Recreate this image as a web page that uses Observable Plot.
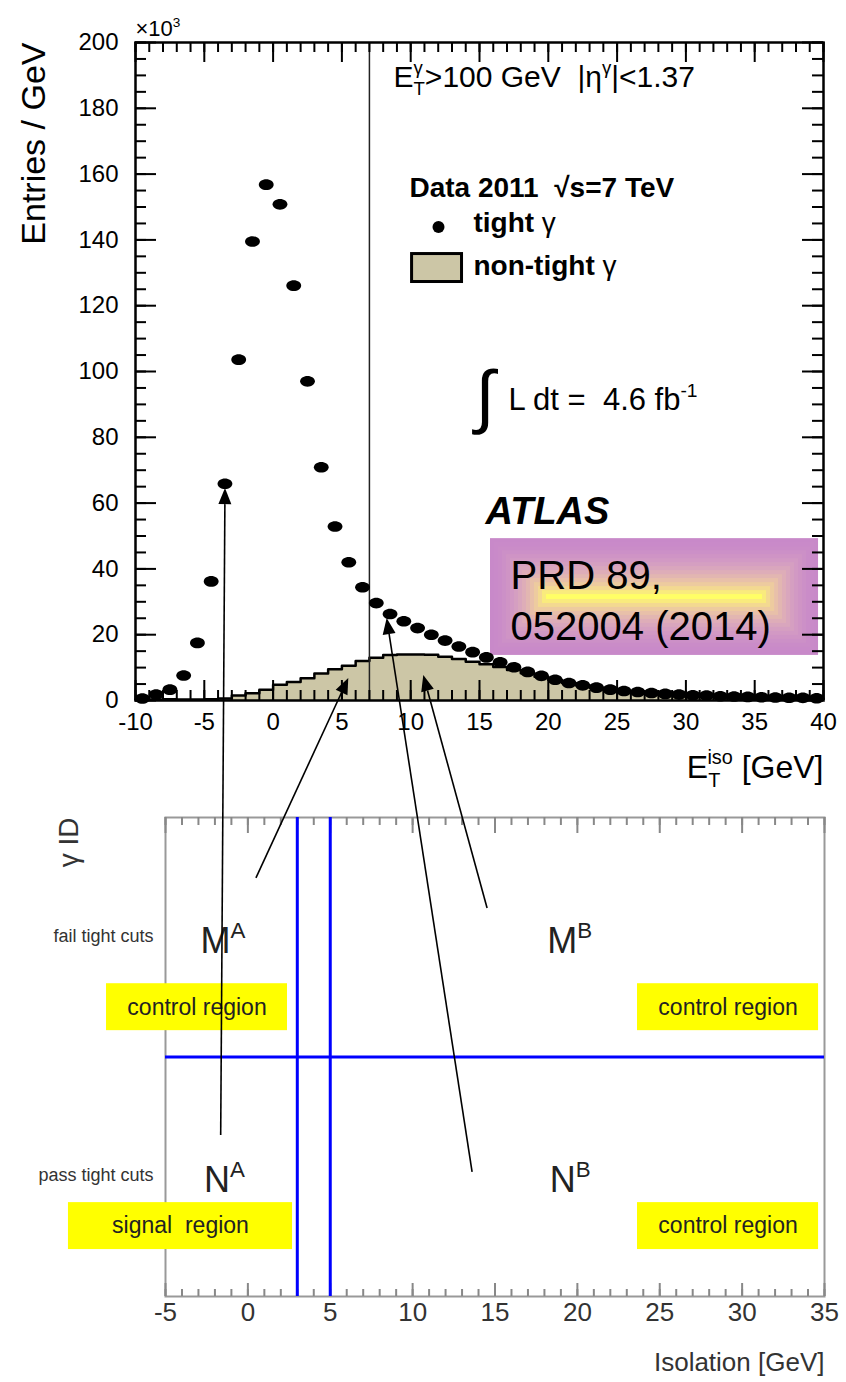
<!DOCTYPE html>
<html>
<head>
<meta charset="utf-8">
<script src="https://cdn.jsdelivr.net/npm/d3@7"></script>
<script src="https://cdn.jsdelivr.net/npm/@observablehq/plot@0.6"></script>
<style>
  html, body { margin: 0; padding: 0; background: #fff; overflow: hidden; }
  #wrap { position: relative; width: 846px; height: 1382px; }
  #wrap > svg { display: block; }
  #topframe, #overlay { position: absolute; left: 0; top: 0; pointer-events: none; }
  svg text { white-space: pre; }
</style>
</head>
<body>
<div id="wrap"></div>
<script>
const FONT = "'Liberation Sans', Arial, Helvetica, sans-serif";

// Tight photon candidates: bin centres in E_T^iso (GeV) and entries / GeV (x10^3)
const tightIso = [-9.5, -8.5, -7.5, -6.5, -5.5, -4.5, -3.5, -2.5, -1.5, -0.5,
  0.5, 1.5, 2.5, 3.5, 4.5, 5.5, 6.5, 7.5, 8.5, 9.5,
  10.5, 11.5, 12.5, 13.5, 14.5, 15.5, 16.5, 17.5, 18.5, 19.5,
  20.5, 21.5, 22.5, 23.5, 24.5, 25.5, 26.5, 27.5, 28.5, 29.5,
  30.5, 31.5, 32.5, 33.5, 34.5, 35.5, 36.5, 37.5, 38.5, 39.5];
const tightEntries = [0.6, 1.8, 3.3, 7.6, 17.5, 36.2, 65.9, 103.6, 139.5, 156.8,
  150.8, 126.1, 97.0, 70.9, 52.9, 42.0, 34.4, 29.6, 26.3, 24.1,
  22.0, 20.0, 18.2, 16.4, 14.7, 13.1, 11.6, 10.1, 8.7, 7.5,
  6.3, 5.3, 4.6, 3.9, 3.3, 2.9, 2.6, 2.3, 2.0, 1.8,
  1.6, 1.5, 1.3, 1.2, 1.1, 1.0, 0.9, 0.85, 0.8, 0.7];

// Non-tight photon candidates: lower bin edges (GeV, 1 GeV wide) and entries / GeV (x10^3)
const nonTightEdge = [-10, -9, -8, -7, -6, -5, -4, -3, -2, -1,
  0, 1, 2, 3, 4, 5, 6, 7, 8, 9,
  10, 11, 12, 13, 14, 15, 16, 17, 18, 19,
  20, 21, 22, 23, 24, 25, 26, 27, 28, 29,
  30, 31, 32, 33, 34, 35, 36, 37, 38, 39];
const nonTightEntries = [0.2, 0.3, 0.4, 0.3, 0.3, 0.4, 0.6, 1.5, 2.2, 3.3,
  4.8, 5.6, 6.8, 8.2, 9.5, 10.6, 12.0, 13.0, 13.8, 14.0,
  14.0, 13.9, 13.3, 12.6, 11.8, 11.0, 10.2, 9.3, 8.3, 7.2,
  6.2, 5.3, 4.6, 3.9, 3.3, 2.8, 2.4, 2.1, 1.8, 1.6,
  1.4, 1.2, 1.1, 1.0, 0.9, 0.8, 0.7, 0.65, 0.6, 0.55];

const isolationCut = [7];                 // GeV, vertical line in the distribution
const topXTicks = [-10, -5, 0, 5, 10, 15, 20, 25, 30, 35, 40];
const topYTicks = [0, 20, 40, 60, 80, 100, 120, 140, 160, 180, 200];

// ABCD plane
const bottomXTicks = [-5, 0, 5, 10, 15, 20, 25, 30, 35];
const isoGap = [3, 5];                    // GeV, the two isolation boundaries
const idCut = [0.5];                      // tight / non-tight boundary on the ID axis
const regionNames = ["M^{A}", "M^{B}", "N^{A}", "N^{B}"];
const regionTags = ["control region", "control region", "signal  region", "control region"];
const idLabels = ["fail tight cuts", "pass tight cuts"];

// Arrows linking regions of the plane (isolation GeV, ID fraction) to the distribution (GeV, entries)
const arrowTails = [[-1.62, 0.336], [0.52, 0.873], [13.64, 0.259], [14.55, 0.81]];
const arrowTips = [[-3.46, 64.4], [5.5, 6.7], [8.29, 24.9], [10.95, 7.6]];

const TAN = "#ccc6a6";

// ---------- helpers ----------
const note = (str, x, y, o = {}) =>
  Plot.text([str], {x: () => x, y: () => y, text: d => d, textAnchor: "start", lineAnchor: "middle", fill: "black", ...o});

// horizontally stretched round marker
const ellipseSymbol = {
  draw(ctx, size) {
    const r = Math.sqrt(size / Math.PI), rx = r * 1.4, ry = r, k = 0.5523;
    ctx.moveTo(rx, 0);
    ctx.bezierCurveTo(rx, ry * k, rx * k, ry, 0, ry);
    ctx.bezierCurveTo(-rx * k, ry, -rx, ry * k, -rx, 0);
    ctx.bezierCurveTo(-rx, -ry * k, -rx * k, -ry, 0, -ry);
    ctx.bezierCurveTo(rx * k, -ry, rx, -ry * k, rx, 0);
    ctx.closePath();
  }
};

// inward ticks on the frame edges: tick marks shortened with insets (pixel lengths)
function edgeTicksX(vals, lenBottom, lenTop, ph, stroke, strokeWidth) {
  return [
    Plot.tickX(vals, {insetTop: ph - lenBottom, stroke, strokeWidth}),
    Plot.tickX(vals, {insetBottom: ph - lenTop, stroke, strokeWidth})
  ];
}
function edgeTicksY(vals, len, pw, stroke, strokeWidth) {
  return [
    Plot.tickY(vals, {insetRight: pw - len, stroke, strokeWidth}),
    Plot.tickY(vals, {insetLeft: pw - len, stroke, strokeWidth})
  ];
}

// ---------- upper panel: isolation distribution ----------
const T = {w: 846, h: 790, ml: 135, mr: 23, mt: 42, mb: 90};
const tpw = T.w - T.ml - T.mr, tph = T.h - T.mt - T.mb;
const topLayout = {
  width: T.w, height: T.h,
  marginLeft: T.ml, marginRight: T.mr, marginTop: T.mt, marginBottom: T.mb
};

const tight = tightIso.map((x, i) => ({x, y: tightEntries[i]}));
const nonTight = nonTightEdge.map((x, i) => ({x: x, y: nonTightEntries[i]}));
const outline = [...nonTight, {x: nonTightEdge.at(-1) + 1, y: nonTightEntries.at(-1)}];

const topMinorX = d3.range(-10, 40.5, 1);
const topMinorY = d3.range(0, 200.5, 5);
const prdLevels = d3.range(0, 15);
const prdColor = d3.interpolateRgbBasis(["#c889c9", "#d6a0c2", "#e4b8b0", "#f2d498", "#ffff66"]);

const topChart = Plot.plot({
  ...topLayout,
  x: {domain: [-10, 40]},
  y: {domain: [0, 200]},
  style: {fontFamily: FONT, fontSize: "24px"},
  marks: [
    // reference box with a rectangular colour fade
    Plot.rect(prdLevels, {
      x1: d => 15.8 + d * 4 / 13.76, x2: d => 39.64 - d * 4 / 13.76,
      y1: d => 13.7 + d * 4 / 3.29, y2: d => 49.2 - d * 4 / 3.29,
      fill: d => prdColor(Math.pow(d / 14, 1.7))
    }),
    Plot.areaY(outline, {x: "x", y: "y", curve: "step-after", fill: TAN}),
    Plot.line(outline, {x: "x", y: "y", curve: "step-after", stroke: "black", strokeWidth: 2.5}),
    Plot.ruleX(isolationCut, {stroke: "#222", strokeWidth: 1.5}),
    Plot.dot(tight, {x: "x", y: "y", r: 5.3, symbol: ellipseSymbol, fill: "black", stroke: "none"}),
    Plot.axisX({ticks: topXTicks, anchor: "bottom", tickSize: 0, tickPadding: 12, tickFormat: d => String(d), label: null, fontSize: 24}),
    Plot.axisY({ticks: topYTicks, anchor: "left", tickSize: 0, tickPadding: 17, tickFormat: d => String(d), label: null, fontSize: 24}),
    Plot.text(["Entries / GeV"], {frameAnchor: "top-left", dx: -101, rotate: -90, textAnchor: "end", lineAnchor: "middle", fontSize: 34}),
    Plot.text(["E_{T}^{iso} [GeV]"], {frameAnchor: "bottom-right", dy: 67, textAnchor: "end", lineAnchor: "middle", fontSize: 32}),
    note("×10^{3}", -10, 204.1, {fontSize: 22}),
    note("E_{T}^{γ}>100 GeV  |η^{γ}|<1.37", 8.75, 189.4, {fontSize: 30}),
    note("Data 2011  √s=7 TeV", 9.91, 155.8, {fontSize: 28, fontWeight: "bold"}),
    Plot.dot([0], {x: () => 12.02, y: () => 143.9, r: 6, fill: "black", stroke: "none"}),
    note("tight !{γ}", 14.56, 145, {fontSize: 28, fontWeight: "bold"}),
    Plot.rect([0], {x1: () => 10.1, x2: () => 13.73, y1: () => 127.2, y2: () => 135.7, fill: TAN, stroke: "black", strokeWidth: 3}),
    note("non-tight !{γ}", 14.56, 132.2, {fontSize: 28, fontWeight: "bold"}),
    note("∫", 14.7, 92.0, {fontSize: 70, fontFamily: "'DejaVu Sans', sans-serif", fontWeight: 200}),
    note("L dt =  4.6 fb^{-1}", 17.1, 91.2, {fontSize: 31}),
    note("ATLAS", 15.44, 57.4, {fontSize: 38, fontWeight: "bold", fontStyle: "italic"}),
    note("PRD 89,", 17.26, 37.7, {fontSize: 40}),
    note("052004 (2014)", 17.26, 22.2, {fontSize: 40})
  ]
});

// frame and inward ticks of the upper panel, on the same scales, laid over the data
const topFrame = Plot.plot({
  ...topLayout,
  x: {domain: [-10, 40], axis: null},
  y: {domain: [0, 200], axis: null},
  marks: [
    ...edgeTicksX(topMinorX, 10, 10, tph, "black", 2),
    ...edgeTicksX(topXTicks, 20, 20, tph, "black", 2),
    ...edgeTicksY(topMinorY, 11, tpw, "black", 2),
    ...edgeTicksY(topYTicks, 21, tpw, "black", 2),
    Plot.frame({stroke: "black", strokeWidth: 2.5})
  ]
});
topFrame.setAttribute("id", "topframe");

// ---------- lower panel: ABCD plane ----------
const B = {w: 846, h: 592, ml: 165, mr: 22, mt: 27, mb: 86};
const bph = B.h - B.mt - B.mb;
const bottomMinorX = d3.range(-5, 35.5, 1);
const GREY = "#888";

const box = (x1, x2, y1, y2, label) => [
  Plot.rect([0], {x1: () => x1, x2: () => x2, y1: () => y1, y2: () => y2, fill: "#ffff00"}),
  note(label, (x1 + x2) / 2, (y1 + y2) / 2, {textAnchor: "middle", fontSize: 23, fill: "#222"})
];

const bottomChart = Plot.plot({
  width: B.w, height: B.h,
  marginLeft: B.ml, marginRight: B.mr, marginTop: B.mt, marginBottom: B.mb,
  x: {domain: [-5, 35]},
  y: {domain: [0, 1], axis: null},
  style: {fontFamily: FONT, fontSize: "24px", color: "#333"},
  marks: [
    Plot.frame({stroke: "#999", strokeWidth: 2}),
    ...edgeTicksX(bottomMinorX, 7, 8, bph, GREY, 2),
    ...edgeTicksX(bottomXTicks, 13, 16, bph, GREY, 2),
    Plot.ruleX(isoGap, {stroke: "#0000ff", strokeWidth: 3}),
    Plot.ruleY(idCut, {stroke: "#0000ff", strokeWidth: 3}),
    ...box(-8.58, 2.405, 0.555, 0.653, regionTags[0]),
    ...box(23.65, 34.64, 0.555, 0.653, regionTags[1]),
    ...box(-10.89, 2.71, 0.098, 0.196, regionTags[2]),
    ...box(23.65, 34.64, 0.098, 0.196, regionTags[3]),
    note(regionNames[0], -2.88, 0.741, {fontSize: 36, fill: "#222"}),
    note(regionNames[1], 18.17, 0.741, {fontSize: 36, fill: "#222"}),
    note(regionNames[2], -2.67, 0.242, {fontSize: 36, fill: "#222"}),
    note(regionNames[3], 18.33, 0.242, {fontSize: 36, fill: "#222"}),
    note(idLabels[0], -5.73, 0.752, {textAnchor: "end", fontSize: 18, fill: "#333"}),
    note(idLabels[1], -5.73, 0.253, {textAnchor: "end", fontSize: 18, fill: "#333"}),
    Plot.axisX({ticks: bottomXTicks, anchor: "bottom", tickSize: 0, tickPadding: 6, tickFormat: d => String(d), label: null, fontSize: 26, fill: "#333"}),
    Plot.text(["γ ID"], {frameAnchor: "top-left", dx: -96, rotate: -90, textAnchor: "end", lineAnchor: "middle", fontSize: 28, fill: "#333"}),
    Plot.text(["Isolation [GeV]"], {frameAnchor: "bottom-right", dy: 66, textAnchor: "end", lineAnchor: "middle", fontSize: 26, fill: "#333"})
  ]
});

const wrap = document.getElementById("wrap");
wrap.appendChild(topChart);
wrap.appendChild(bottomChart);
wrap.appendChild(topFrame);

// ---------- text markup: _{sub}, ^{sup}, !{normal weight} ----------
const NS = "http://www.w3.org/2000/svg";
function richify(el) {
  const s = el.textContent;
  if (!/[_^!]\{/.test(s)) return;
  const fs = parseFloat(getComputedStyle(el).fontSize);
  const parts = s.split(/([_^!]\{[^}]*\})/).filter(p => p !== "");
  el.textContent = "";
  let shift = 0, prev = null, pending = 0;
  for (const p of parts) {
    const t = document.createElementNS(NS, "tspan");
    let target = 0, size = fs, kind = "base", content = p;
    if (p.startsWith("_{")) { kind = "sub"; target = 0.28 * fs; size = 0.62 * fs; content = p.slice(2, -1); }
    else if (p.startsWith("^{")) { kind = "sup"; target = -0.42 * fs; size = 0.62 * fs; content = p.slice(2, -1); }
    else if (p.startsWith("!{")) { content = p.slice(2, -1); t.setAttribute("font-weight", "normal"); }
    t.setAttribute("dy", (target - shift).toFixed(2));
    shift = target;
    t.setAttribute("font-size", size);
    let dx = pending;
    pending = 0;
    if (kind === "sup" && prev && prev.kind === "sub") dx -= prev.width;
    if (dx) t.setAttribute("dx", dx.toFixed(2));
    t.textContent = content;
    el.appendChild(t);
    const width = t.getComputedTextLength();
    if (kind === "sup" && prev && prev.kind === "sub" && prev.width > width) pending = prev.width - width;
    prev = {kind, width};
  }
}
wrap.querySelectorAll("text").forEach(richify);

// ---------- arrows across both panels ----------
const toFn = s => (s.apply ? v => s.apply(v) : d3.scaleLinear(s.domain, s.range));
const tx = toFn(topChart.scale("x")), ty = toFn(topChart.scale("y"));
const bx = toFn(bottomChart.scale("x")), by = toFn(bottomChart.scale("y"));

const ov = d3.select(wrap).append("svg").attr("id", "overlay").attr("width", 846).attr("height", 1382);
arrowTails.forEach((tail, i) => {
  const x0 = bx(tail[0]), y0 = by(tail[1]) + T.h;
  const x1 = tx(arrowTips[i][0]), y1 = ty(arrowTips[i][1]);
  const a = Math.atan2(y1 - y0, x1 - x0), L = 16, W = 6.5;
  const hx = x1 - L * Math.cos(a), hy = y1 - L * Math.sin(a);
  ov.append("line").attr("x1", x0).attr("y1", y0).attr("x2", hx).attr("y2", hy)
    .attr("stroke", "black").attr("stroke-width", 1.6);
  ov.append("path")
    .attr("d", `M${x1},${y1}L${hx + W * Math.sin(a)},${hy - W * Math.cos(a)}L${hx - W * Math.sin(a)},${hy + W * Math.cos(a)}Z`)
    .attr("fill", "black");
});
</script>
</body>
</html>
